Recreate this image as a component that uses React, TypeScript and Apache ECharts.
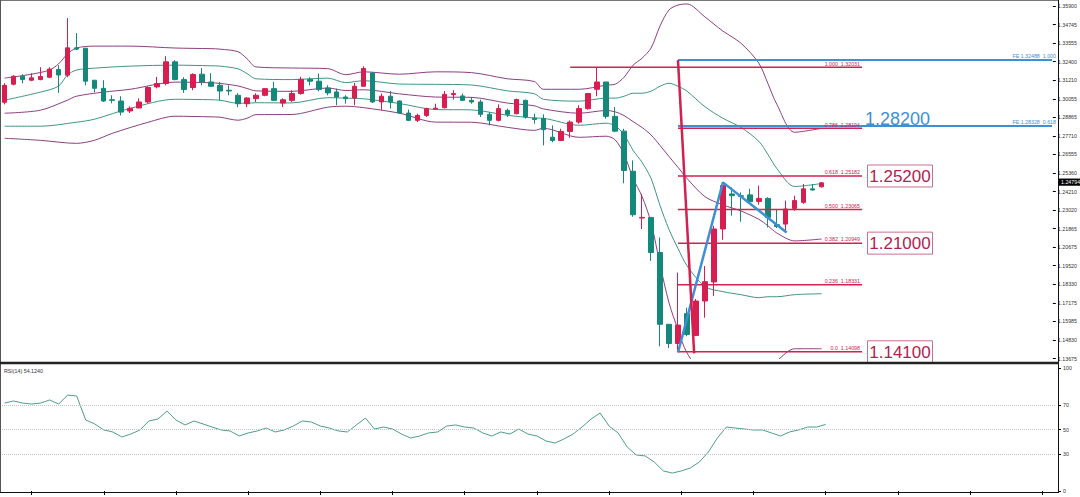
import React, { useEffect, useRef } from "react";
import * as echarts from "echarts";

const N_SLOTS = 117;
const categories = Array.from({ length: N_SLOTS }, (_, i) => String(i + 1));

const priceAxisLabels = [
  "1.13675", "1.14830", "1.15985", "1.17175", "1.18330", "1.19520", "1.20675",
  "1.21865", "1.23020", "1.24210", "1.25360", "1.26555", "1.27710", "1.28865",
  "1.30055", "1.31210", "1.32400", "1.33555", "1.34745", "1.35900",
];
const rsiAxisLabels = ["0", "10", "20", "30", "40", "50", "60", "70", "80", "90", "100"];
const rsiShownLabels = ["0", "30", "50", "70", "100"];

// [open, close, low, high]
const ohlc = [
  [1.2983, 1.309, 1.297, 1.3103], [1.3097, 1.3147, 1.309, 1.3154], [1.3147, 1.3126, 1.3103, 1.316],
  [1.3122, 1.3137, 1.3116, 1.3166], [1.3126, 1.3145, 1.3122, 1.3204], [1.3141, 1.3192, 1.3135, 1.3204],
  [1.319, 1.3155, 1.3042, 1.3217], [1.3154, 1.3326, 1.3141, 1.3514], [1.3326, 1.3318, 1.3312, 1.3419],
  [1.3324, 1.3116, 1.309, 1.3324], [1.3122, 1.3071, 1.3046, 1.3122], [1.3071, 1.2991, 1.2985, 1.3122],
  [1.2999, 1.2995, 1.2976, 1.3027], [1.2991, 1.2921, 1.29, 1.3021], [1.2928, 1.2945, 1.2915, 1.2957],
  [1.2947, 1.2985, 1.2945, 1.3008], [1.2985, 1.3076, 1.2976, 1.3084], [1.308, 1.3101, 1.3071, 1.3143],
  [1.3101, 1.3238, 1.309, 1.3274], [1.3238, 1.3126, 1.3122, 1.3248], [1.3126, 1.3063, 1.3042, 1.3141],
  [1.3076, 1.3158, 1.3059, 1.3166], [1.316, 1.3111, 1.309, 1.3198], [1.3111, 1.3084, 1.308, 1.3166],
  [1.309, 1.3054, 1.2995, 1.3111], [1.3059, 1.3054, 1.3027, 1.309], [1.3027, 1.2974, 1.2953, 1.304],
  [1.2974, 1.301, 1.2953, 1.3014], [1.3006, 1.3027, 1.2985, 1.304], [1.3027, 1.3069, 1.3021, 1.3073],
  [1.3069, 1.2995, 1.2991, 1.3111], [1.2978, 1.2999, 1.2953, 1.3008], [1.2995, 1.3038, 1.2985, 1.3059],
  [1.3038, 1.3128, 1.3031, 1.3143], [1.3128, 1.3116, 1.309, 1.3141], [1.3116, 1.3063, 1.3052, 1.3164],
  [1.3073, 1.3042, 1.3027, 1.309], [1.3048, 1.3016, 1.2964, 1.3069], [1.3016, 1.3006, 1.2974, 1.3027],
  [1.301, 1.3084, 1.2964, 1.3105], [1.3084, 1.3196, 1.308, 1.321], [1.3168, 1.2985, 1.2978, 1.3174],
  [1.2985, 1.3021, 1.2932, 1.3038], [1.3021, 1.2985, 1.2943, 1.3054], [1.2991, 1.2915, 1.2911, 1.2995],
  [1.2915, 1.2869, 1.2864, 1.2937], [1.2869, 1.29, 1.2858, 1.2911], [1.29, 1.2943, 1.289, 1.2949],
  [1.294, 1.2946, 1.2936, 1.2974], [1.2949, 1.3033, 1.2943, 1.3054], [1.3031, 1.3038, 1.3, 1.3059],
  [1.3023, 1.2995, 1.2991, 1.3038], [1.2995, 1.2985, 1.2974, 1.3016], [1.2985, 1.2907, 1.289, 1.3],
  [1.2907, 1.2869, 1.2837, 1.2921], [1.2869, 1.2943, 1.2862, 1.297], [1.2932, 1.2907, 1.289, 1.2943],
  [1.2911, 1.3, 1.2907, 1.3006], [1.2995, 1.289, 1.288, 1.3], [1.2883, 1.2875, 1.2848, 1.2911],
  [1.288, 1.281, 1.2711, 1.2907], [1.2763, 1.2742, 1.2731, 1.2837], [1.2742, 1.2799, 1.2738, 1.2816],
  [1.2799, 1.2858, 1.2759, 1.2869], [1.2858, 1.2943, 1.2848, 1.2964], [1.2943, 1.3038, 1.2936, 1.3042],
  [1.3065, 1.3111, 1.3021, 1.3203], [1.3111, 1.2894, 1.288, 1.3111], [1.2894, 1.2801, 1.2795, 1.2953],
  [1.2801, 1.2553, 1.2472, 1.2816], [1.2548, 1.2274, 1.2261, 1.2616], [1.2253, 1.2257, 1.2184, 1.2405],
  [1.2257, 1.2036, 1.1983, 1.2257], [1.2036, 1.1583, 1.1445, 1.213], [1.1583, 1.1462, 1.1433, 1.1583],
  [1.1462, 1.1578, 1.141, 1.1909], [1.165, 1.1519, 1.1508, 1.1688], [1.1513, 1.173, 1.1509, 1.1743],
  [1.173, 1.1852, 1.1625, 1.1951], [1.185, 1.2184, 1.1762, 1.2204], [1.2184, 1.2458, 1.2116, 1.2478],
  [1.2405, 1.2394, 1.2268, 1.2447], [1.2394, 1.239, 1.223, 1.2415], [1.2399, 1.2356, 1.2342, 1.2437],
  [1.2358, 1.2377, 1.2337, 1.2458], [1.2377, 1.2257, 1.2194, 1.2384], [1.2211, 1.22, 1.219, 1.231],
  [1.2215, 1.231, 1.2162, 1.2363], [1.2314, 1.2363, 1.2299, 1.2394], [1.2352, 1.2437, 1.2342, 1.2468],
  [1.2437, 1.243, 1.2426, 1.2468], [1.245, 1.2475, 1.2445, 1.248],
];

// Bollinger-style envelopes: [bar index, price]
const bandUpper2 = [
  [0, 1.3135], [3, 1.316], [5, 1.3186], [6, 1.3224], [7, 1.3287], [8, 1.3325], [10, 1.3337], [14, 1.3337],
  [19, 1.3325], [23, 1.3321], [24, 1.3318], [26, 1.3302], [27, 1.3258], [28, 1.3206], [32, 1.3199],
  [36, 1.3195], [38, 1.3157], [40, 1.3175], [44, 1.316], [48, 1.3175], [52, 1.317], [56, 1.3131],
  [59, 1.3114], [60, 1.3065], [64, 1.3065], [67, 1.3091], [68, 1.3097], [69, 1.3141], [70, 1.3217],
  [71, 1.3261], [72, 1.3325], [73, 1.3464], [74, 1.3565], [75, 1.3596], [76, 1.3603], [78, 1.3521],
  [80, 1.3432], [82, 1.3356], [84, 1.323], [85, 1.3103], [86, 1.2971], [88, 1.2794], [91, 1.2819],
];
const bandUpper1 = [
  [0, 1.2996], [4, 1.3047], [6, 1.3084], [7, 1.3154], [8, 1.3186], [10, 1.3198], [14, 1.3211], [19, 1.3217],
  [23, 1.3213], [24, 1.3211], [26, 1.3194], [27, 1.3164], [28, 1.3131], [32, 1.3126], [36, 1.3135],
  [38, 1.3107], [40, 1.3119], [44, 1.3098], [48, 1.3096], [52, 1.3092], [56, 1.3055], [59, 1.3037],
  [60, 1.3002], [64, 1.299], [67, 1.3009], [68, 1.3009], [69, 1.3021], [70, 1.304], [71, 1.304],
  [72, 1.3053], [73, 1.3084], [74, 1.3103], [75, 1.3084], [76, 1.3053], [78, 1.2955], [80, 1.2882],
  [82, 1.2825], [84, 1.2737], [85, 1.2655], [86, 1.2566], [88, 1.2452], [91, 1.2471],
];
const bandMiddle = [
  [0, 1.2914], [4, 1.2933], [7, 1.2996], [8, 1.3021], [11, 1.3047], [14, 1.3065], [19, 1.311], [23, 1.3106],
  [24, 1.3102], [26, 1.3086], [27, 1.307], [28, 1.3055], [32, 1.3052], [36, 1.3073], [38, 1.3057],
  [40, 1.3062], [44, 1.3036], [48, 1.3016], [52, 1.3014], [56, 1.2978], [59, 1.2961], [60, 1.2941],
  [64, 1.2914], [67, 1.2931], [68, 1.2923], [69, 1.2899], [70, 1.2861], [71, 1.2824], [72, 1.2777],
  [73, 1.2711], [74, 1.2641], [75, 1.2573], [76, 1.2503], [78, 1.2388], [80, 1.2336], [82, 1.2298],
  [84, 1.2245], [85, 1.2205], [86, 1.2159], [88, 1.2109], [91, 1.2121],
];
const bandLower1 = [
  [0, 1.2832], [4, 1.2832], [8, 1.2857], [10, 1.2876], [14, 1.2945], [19, 1.3002], [23, 1.2999], [24, 1.2996],
  [26, 1.2977], [27, 1.2977], [28, 1.298], [32, 1.2979], [36, 1.3012], [38, 1.3009], [40, 1.3005],
  [44, 1.2975], [48, 1.2937], [52, 1.2935], [56, 1.2901], [59, 1.2884], [60, 1.2882], [64, 1.2838],
  [67, 1.2851], [68, 1.2835], [69, 1.2778], [70, 1.268], [71, 1.2604], [72, 1.2503], [73, 1.2332],
  [74, 1.2181], [75, 1.2061], [76, 1.1953], [78, 1.1821], [80, 1.1789], [82, 1.177], [84, 1.1751],
  [85, 1.1757], [86, 1.1757], [88, 1.177], [91, 1.1776],
];
const bandLower2 = [
  [0, 1.2756], [4, 1.2743], [8, 1.2724], [10, 1.2743], [12, 1.2787], [16, 1.2857], [19, 1.2895], [23, 1.2891],
  [24, 1.2889], [26, 1.287], [27, 1.2882], [28, 1.2905], [32, 1.2906], [36, 1.2952], [38, 1.2958],
  [40, 1.2949], [44, 1.2914], [48, 1.2858], [52, 1.2857], [56, 1.2825], [59, 1.2806], [60, 1.2819],
  [64, 1.2762], [67, 1.2769], [68, 1.2746], [69, 1.2655], [70, 1.2503], [71, 1.2389], [72, 1.2225],
  [73, 1.196], [74, 1.1719], [75, 1.1549], [76, 1.1403], [78, 1.1258], [80, 1.1239], [82, 1.1239],
  [84, 1.1264], [85, 1.1309], [86, 1.1353], [88, 1.1429], [91, 1.1429],
];

const rsiValues = [
  71.5, 73.2, 71.5, 70.7, 71.5, 74.0, 70.7, 78.0, 77.2, 57.7, 54.5, 49.6, 48.0, 43.9, 46.3, 49.6, 56.9,
  58.5, 65.0, 57.7, 53.7, 56.9, 54.5, 52.0, 49.6, 48.8, 44.7, 47.2, 48.8, 51.2, 48.0, 49.6, 52.8, 56.9,
  56.1, 52.8, 51.2, 48.8, 48.0, 53.7, 59.3, 50.4, 52.0, 50.4, 46.3, 43.1, 44.7, 47.2, 48.0, 52.8, 53.7,
  52.0, 51.2, 47.2, 44.7, 48.0, 46.3, 50.4, 46.3, 44.7, 40.7, 39.0, 42.3, 46.3, 52.0, 58.5, 63.4, 52.8,
  47.2, 35.8, 29.3, 28.5, 23.6, 16.3, 14.6, 16.3, 18.7, 23.6, 31.7, 43.1, 52.0, 51.2, 50.4, 49.6, 49.6,
  47.2, 44.7, 48.0, 49.6, 52.0, 52.0, 54.124,
];
const rsiGuides = [30, 50, 70];

const fibRatios = ["1.000", "0.786", "0.618", "0.500", "0.382", "0.236", "0.0"];
const fibPrices = [1.32031, 1.28194, 1.25182, 1.23065, 1.20949, 1.18331, 1.14098];
const fibStarts = [63, 75, 75, 75, 75, 75, 75];
const FIB_END = 95.5;

const feRatios = ["1.000", "0.618"];
const fePrices = [1.32488, 1.28328];
const FE_START = 75;

const zigzag = [[75, 1.1405], [80, 1.2478], [87.1, 1.2162]];
const fibTrend = [[75, 1.32488], [76.8, 1.1400]];

const currentPrice = 1.24794;
const noteTexts = ["1.28200", "1.25200", "1.21000", "1.14100"];

const FONT = '"Liberation Sans", Arial, sans-serif';
const RED = "#d81e50";
const TEAL = "#14897b";
const PURPLE = "#8c3f80";
const BTEAL = "#3f9583";
const FIBC = "#d2204f";
const BLUE = "#3d8fd6";

const GRID_LEFT = -2.5;
const GRID_WIDTH = 1058.3;

function lineSeries(data: number[][], color: string, width: number, extra: any = {}) {
  return {
    type: "line",
    xAxisIndex: 1,
    yAxisIndex: 0,
    data,
    symbol: "none",
    showSymbol: false,
    silent: true,
    lineStyle: { color, width },
    z: 2,
    ...extra,
  };
}

function buildOption(): any {
  const series: any[] = [
    lineSeries(bandUpper2, PURPLE, 1, { smooth: 0.3, clip: false }),
    lineSeries(bandUpper1, BTEAL, 1, { smooth: 0.3 }),
    lineSeries(bandMiddle, PURPLE, 1, { smooth: 0.3 }),
    lineSeries(bandLower1, BTEAL, 1, { smooth: 0.3 }),
    lineSeries(bandLower2, PURPLE, 1, { smooth: 0.3 }),
    {
      type: "candlestick",
      xAxisIndex: 0,
      yAxisIndex: 0,
      data: ohlc,
      barWidth: 5,
      z: 3,
      itemStyle: {
        color: RED,
        color0: TEAL,
        borderColor: RED,
        borderColor0: TEAL,
        borderWidth: 1,
      },
    },
  ];
  fibPrices.forEach((p, k) => {
    series.push(lineSeries([[fibStarts[k], p], [FIB_END, p]], FIBC, 1.5, { z: 4 }));
  });
  fePrices.forEach((p) => {
    series.push(lineSeries([[FE_START, p], [116.74, p]], BLUE, 2, { z: 4, clip: false }));
  });
  series.push(lineSeries(zigzag, BLUE, 2.5, { z: 5 }));
  series.push(lineSeries(fibTrend, FIBC, 2.5, { z: 5 }));
  series.push({
    type: "line",
    xAxisIndex: 2,
    yAxisIndex: 2,
    data: rsiValues,
    symbol: "none",
    showSymbol: false,
    silent: true,
    lineStyle: { color: "#4f9d8c", width: 1 },
    markLine: {
      silent: true,
      symbol: ["none", "none"],
      label: { show: false },
      lineStyle: { color: "#c4c4c4", type: "dotted", width: 1 },
      data: rsiGuides.map((v) => ({ yAxis: v })),
    },
  });

  const labelStyle = { fontSize: 5.3, color: "#333", fontFamily: FONT, margin: 5 };
  return {
    animation: false,
    backgroundColor: "#ffffff",
    grid: [
      { left: GRID_LEFT, top: 6, width: GRID_WIDTH, height: 352.5 },
      { left: GRID_LEFT, top: 368, width: GRID_WIDTH, height: 123 },
    ],
    xAxis: [
      { type: "category", gridIndex: 0, data: categories, boundaryGap: true, show: false },
      { type: "value", gridIndex: 0, min: -0.5, max: N_SLOTS - 0.5, show: false },
      {
        type: "category",
        gridIndex: 1,
        data: categories,
        boundaryGap: true,
        axisLine: { show: false },
        axisLabel: { show: false },
        splitLine: { show: false },
        axisTick: {
          show: true,
          alignWithLabel: true,
          length: 4,
          interval: (i: number) => i % 8 === 3,
          lineStyle: { color: "#000" },
        },
      },
    ],
    yAxis: [
      { type: "value", gridIndex: 0, min: 1.13675, max: 1.359, show: false },
      {
        type: "category",
        gridIndex: 0,
        data: priceAxisLabels,
        boundaryGap: false,
        position: "right",
        offset: 2.2,
        axisLine: { show: false },
        axisTick: { show: true, length: 3, lineStyle: { color: "#000" } },
        axisLabel: labelStyle,
        splitLine: { show: false },
      },
      { type: "value", gridIndex: 1, min: 0, max: 100, show: false },
      {
        type: "category",
        gridIndex: 1,
        data: rsiAxisLabels,
        boundaryGap: false,
        position: "right",
        offset: 2.2,
        axisLine: { show: false },
        axisTick: {
          show: true,
          length: 3,
          interval: (i: number, v: string) => rsiShownLabels.includes(v),
          lineStyle: { color: "#000" },
        },
        axisLabel: { ...labelStyle, interval: (i: number, v: string) => rsiShownLabels.includes(v) },
        splitLine: { show: false },
      },
    ],
    series,
  };
}

export default function App() {
  const ref = useRef<HTMLDivElement>(null);
  useEffect(() => {
    const el = ref.current!;
    const chart = echarts.init(el, null, { renderer: "svg" });
    chart.setOption(buildOption());
    const py = (v: number) =>
      (chart.convertToPixel({ xAxisIndex: 1, yAxisIndex: 0 }, [80, v]) as number[])[1];
    const g: any[] = [];
    const txt = (x: number, y: number, text: string, fill: string, size: number, align = "left", va = "middle", extra: any = {}) => ({
      type: "text",
      x,
      y,
      z: 20,
      silent: true,
      style: { text, fill, font: `${size}px ${FONT}`, align, verticalAlign: va, textAlign: align, textVerticalAlign: va },
      ...extra,
    });
    fibPrices.forEach((p, k) => {
      g.push(txt(860, py(p) - 1.2, `${fibRatios[k]}  ${p.toFixed(5)}`, FIBC, 5.3, "right", "bottom"));
    });
    fePrices.forEach((p, k) => {
      g.push(txt(1056, py(p) - 1.5, `FE ${p.toFixed(5)}  ${feRatios[k]}`, BLUE, 5.3, "right", "bottom"));
    });
    // annotation boxes
    g.push(txt(865, 118.5, noteTexts[0], BLUE, 18, "left", "middle"));
    const boxY = [py(fibPrices[2]), py(fibPrices[4]), py(fibPrices[6])];
    [1, 2, 3].forEach((n, k) => {
      const cy = boxY[k];
      g.push({
        type: "rect",
        z: 19,
        silent: true,
        shape: { x: 867.5, y: cy - 11, width: 65, height: 22 },
        style: { fill: "#fff", stroke: "#c9708f", lineWidth: 1 },
      });
      g.push(txt(900, cy + 0.5, noteTexts[n], "#b3214f", 17, "center", "middle"));
    });
    // current price box
    const cp = py(currentPrice);
    g.push({ type: "rect", z: 21, silent: true, shape: { x: 1059, y: cp - 3.6, width: 21, height: 7.2 }, style: { fill: "#000" } });
    g.push(txt(1061, cp, currentPrice.toFixed(5), "#fff", 5.3, "left", "middle", { z: 22 }));
    // RSI caption
    g.push(txt(4, 370.5, `RSI(14) ${rsiValues[rsiValues.length - 1].toFixed(4)}`, "#333", 5.3, "left", "middle"));
    // frames
    const L = (x1: number, y1: number, x2: number, y2: number, w: number, c = "#111") => ({
      type: "line",
      z: 25,
      silent: true,
      shape: { x1, y1, x2, y2 },
      style: { stroke: c, lineWidth: w },
    });
    g.push(L(0, 0.5, 1058.5, 0.5, 1, "#777"));
    g.push(L(0.5, 0, 0.5, 492.5, 1, "#555"));
    g.push(L(1058.5, 0, 1058.5, 493, 1, "#111"));
    g.push(L(0, 363, 1058.5, 363, 2.5, "#222"));
    g.push(L(0, 492.5, 1058.5, 492.5, 1, "#111"));
    chart.setOption({ graphic: g });
    return () => chart.dispose();
  }, []);
  return <div ref={ref} style={{ position: "fixed", left: 0, top: 0, width: 1080, height: 497 }} />;
}
